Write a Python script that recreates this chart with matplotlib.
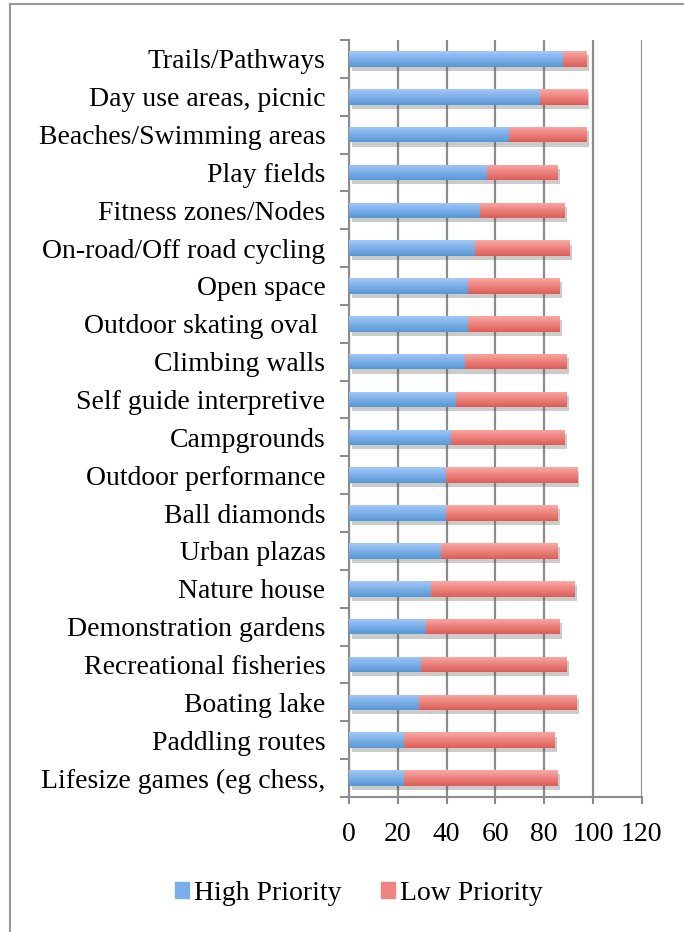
import matplotlib.pyplot as plt
import matplotlib.patheffects as pe
import numpy as np
from matplotlib.colors import LinearSegmentedColormap
from matplotlib.lines import Line2D
from matplotlib.patches import Patch

categories = [
    "Trails/Pathways", "Day use areas, picnic", "Beaches/Swimming areas",
    "Play fields", "Fitness zones/Nodes", "On-road/Off road cycling",
    "Open space", "Outdoor skating oval ", "Climbing walls",
    "Self guide interpretive", "Campgrounds", "Outdoor performance",
    "Ball diamonds", "Urban plazas", "Nature house",
    "Demonstration gardens", "Recreational fisheries", "Boating lake",
    "Paddling routes", "Lifesize games (eg chess,",
]
high = [87.9, 78.1, 65.7, 56.7, 53.6, 51.7, 48.7, 48.7, 47.6, 43.8,
        41.8, 39.6, 39.6, 37.7, 33.6, 31.4, 29.5, 28.7, 22.4, 22.4]
low = [9.5, 19.3, 31.7, 28.8, 34.6, 38.7, 37.6, 37.6, 41.6, 45.4,
       46.5, 53.7, 45.9, 47.8, 58.9, 54.9, 59.7, 64.6, 61.8, 63.1]
x_ticks = [0, 20, 40, 60, 80, 100, 120]

plt.rcParams['font.family'] = ['Liberation Serif', 'DejaVu Serif']
plt.rcParams['font.size'] = 20

GRID = '#8c8c8c'

fig = plt.figure(figsize=(6.84, 9.32), dpi=100)
ax = fig.add_axes([0.5102, 0.1449, 0.428, 0.8122])

y = np.arange(len(categories))
bars_hi = ax.barh(y, high, height=0.41, color='#78aeea', zorder=2)
bars_lo = ax.barh(y, low, left=high, height=0.41, color='#ee847f', zorder=2)


def shade(bars, top, bottom):
    # vertical gradient fill clipped to each bar, plus a soft drop shadow
    cmap = LinearSegmentedColormap.from_list('g', [top, bottom])
    grad = np.linspace(0, 1, 64).reshape(-1, 1)
    for b in bars:
        b.set_path_effects([pe.SimplePatchShadow(offset=(2, -3), shadow_rgbFace='#555555', alpha=0.3),
                            pe.Normal()])
        x0, y0 = b.get_x(), b.get_y()
        w, h = b.get_width(), b.get_height()
        im = ax.imshow(grad, cmap=cmap, aspect='auto', interpolation='bilinear',
                       extent=(x0, x0 + w, y0 + h, y0), zorder=3)
        im.set_clip_path(b)


shade(bars_hi, '#a3c8f8', '#5797d6')
shade(bars_lo, '#fba9a5', '#dd5d57')

ax.set_xlim(0, 120)
ax.set_ylim(len(categories) - 0.5, -0.5)
ax.set_xticks(x_ticks)
ax.set_yticks(y)
ax.set_yticklabels(categories)
ax.set_yticks(np.arange(-0.5, len(categories), 1), minor=True)

ax.set_axisbelow(True)
ax.xaxis.grid(True, color=GRID, lw=1.6)
for s in ['top', 'right']:
    ax.spines[s].set_visible(False)
for s in ['left', 'bottom']:
    ax.spines[s].set_color(GRID)
    ax.spines[s].set_linewidth(1.5)

ax.tick_params(axis='x', direction='out', length=5, width=1.5, color=GRID, pad=13)
ax.tick_params(axis='y', which='major', length=0, pad=17)
ax.tick_params(axis='y', which='minor', direction='out', length=6.5, width=1.5, color=GRID)

fig.legend(handles=[Patch(color='#78aeea', label='High Priority'),
                    Patch(color='#ee847f', label='Low Priority')],
           loc='center', bbox_to_anchor=(359 / 684, 1 - 893 / 932), ncol=2,
           frameon=False, handlelength=0.5, handleheight=0.5,
           handletextpad=0.2, columnspacing=1.4)

# outer chart frame (left and top edges visible)
fig.add_artist(Line2D([10 / 684, 10 / 684], [0, 1 - 4 / 932], transform=fig.transFigure,
                      color='#999999', lw=1.5))
fig.add_artist(Line2D([10 / 684, 1], [1 - 4 / 932, 1 - 4 / 932], transform=fig.transFigure,
                      color='#999999', lw=1.5))

fig.savefig('out.png', dpi=100)
